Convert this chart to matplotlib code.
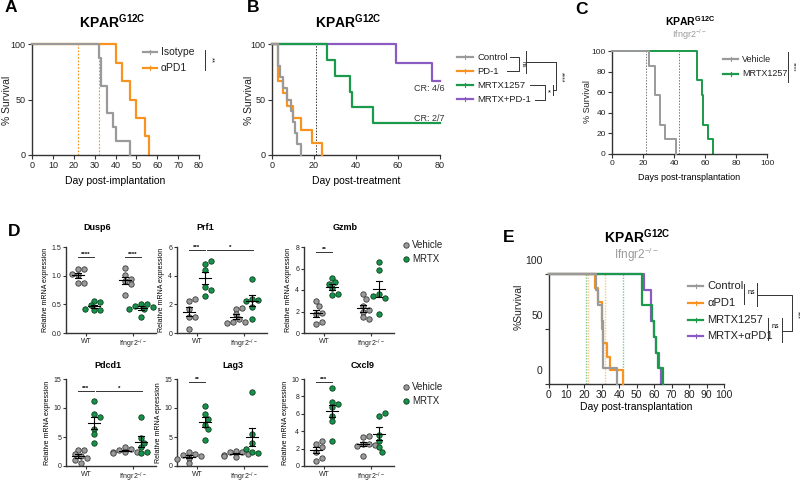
import matplotlib
matplotlib.use("Agg")
import matplotlib.pyplot as plt
import matplotlib.transforms as mtransforms
import numpy as np

plt.rcParams['font.family'] = ['Liberation Sans', 'DejaVu Sans']
plt.rcParams['mathtext.fontset'] = 'custom'
plt.rcParams['mathtext.rm'] = 'Liberation Sans'
plt.rcParams['mathtext.bf'] = 'Liberation Sans:bold'
plt.rcParams['axes.linewidth'] = 1.0
plt.rcParams['axes.edgecolor'] = '#333333'
plt.rcParams['xtick.color'] = '#333333'
plt.rcParams['ytick.color'] = '#333333'

GREY = '#9a9a9a'
ORANGE = '#f7931e'
GREEN = '#1b9a4b'
PURPLE = '#8a5cc2'
VEH_FACE, VEH_EDGE = '#9b9b9b', '#3a3a3a'
MRTX_FACE, MRTX_EDGE = '#17924a', '#0d3d1f'

# ---- A: KPAR G12C, isotype vs aPD1
a_iso_t = [0, 32, 33, 36, 39, 40, 47]
a_iso_s = [100, 87.5, 62.5, 37.5, 25, 12.5, 0]
a_pd1_t = [0, 40, 43, 47, 50, 54, 56]
a_pd1_s = [100, 83.3, 66.7, 50, 33.3, 16.7, 0]
a_treat_days = [22, 32]

# ---- B: KPAR G12C, four arms
b_ctrl_t = [0, 3, 4, 5, 7, 9, 10, 11, 12, 14]
b_ctrl_s = [100, 80, 70, 60, 50, 40, 30, 20, 10, 0]
b_pd1_t = [0, 3, 5, 7, 10, 14, 19, 24]
b_pd1_s = [100, 66.7, 55.6, 44.4, 33.3, 22.2, 11.1, 0]
b_mrtx_t = [0, 26, 30, 37, 38, 48, 80]
b_mrtx_s = [100, 85.7, 71.4, 57.1, 42.9, 28.6, 28.6]
b_combo_t = [0, 59, 76, 80]
b_combo_s = [100, 83.3, 66.7, 66.7]
b_treat_day = 21

# ---- C: Ifngr2-/- vehicle vs MRTX1257
c_veh_t = [0, 24, 28, 31, 34, 41]
c_veh_s = [100, 85.7, 57.1, 28.6, 14.3, 0]
c_mrtx_t = [0, 55, 58, 59, 62, 65]
c_mrtx_s = [100, 71.4, 57.1, 28.6, 14.3, 0]
c_treat_days = [22, 43]

# ---- D: qPCR, relative mRNA expression
genes = ['Dusp6', 'Prf1', 'Gzmb', 'Pdcd1', 'Lag3', 'Cxcl9']
dusp6_wt_veh = [1.12, 1.12, 1.02, 1.03, 0.87, 0.87]
dusp6_wt_mrtx = [0.56, 0.54, 0.48, 0.40, 0.40, 0.41]
dusp6_ko_veh = [1.13, 1.02, 0.95, 0.90, 0.85, 0.67]
dusp6_ko_mrtx = [0.50, 0.50, 0.47, 0.45, 0.42, 0.42, 0.28]
prf1_wt_veh = [2.2, 2.4, 1.7, 1.15, 1.15, 0.25]
prf1_wt_mrtx = [4.8, 5.0, 4.4, 3.2, 3.0, 2.6]
prf1_ko_veh = [1.7, 1.75, 1.3, 1.0, 0.8, 0.75, 0.7]
prf1_ko_mrtx = [3.8, 2.4, 2.3, 2.2, 1.8, 1.0]
gzmb_wt_veh = [2.95, 2.5, 1.75, 1.9, 0.8, 1.0]
gzmb_wt_mrtx = [5.1, 4.7, 4.6, 4.2, 3.5, 3.6]
gzmb_ko_veh = [3.6, 3.2, 2.5, 2.0, 2.1, 1.5, 1.3]
gzmb_ko_mrtx = [6.6, 5.9, 3.6, 3.3, 3.4, 1.8]
pdcd1_wt_veh = [2.8, 2.7, 2.0, 1.8, 1.3, 1.1, 0.6]
pdcd1_wt_mrtx = [11.2, 8.9, 8.5, 6.4, 5.5, 4.0]
pdcd1_ko_veh = [3.3, 2.9, 2.7, 2.5, 2.4, 2.5, 2.2]
pdcd1_ko_mrtx = [8.4, 4.8, 4.0, 3.2, 2.3, 2.4]
lag3_wt_veh = [2.4, 2.0, 1.9, 1.8, 1.4, 1.2, 0.5]
lag3_wt_mrtx = [10.3, 8.9, 8.1, 7.1, 6.3, 4.5]
lag3_ko_veh = [2.6, 2.4, 2.5, 2.1, 1.9, 1.8, 1.6]
lag3_ko_mrtx = [12.7, 5.6, 4.0, 2.5, 2.2, 3.0]
cxcl9_wt_veh = [2.55, 2.9, 1.65, 2.2, 0.6, 0.95]
cxcl9_wt_mrtx = [9.0, 7.4, 7.1, 6.8, 5.8, 5.2, 2.9]
cxcl9_ko_veh = [3.3, 3.5, 2.5, 2.5, 2.3, 1.2, 2.4]
cxcl9_ko_mrtx = [5.8, 6.1, 3.6, 2.9, 2.2, 1.65]
d_ymax = [1.5, 6, 8, 15, 15, 10]
d_ystep = [0.5, 2, 2, 5, 5, 2]
# significance bars: (from, to, height, label)
d_sig = [
    [(0.83, 1.17, 1.33, '****'), (1.83, 2.17, 1.33, '****')],
    [(0.83, 1.17, 5.8, '***'), (1.22, 2.2, 5.8, '*')],
    [(0.83, 1.17, 7.5, '**')],
    [(0.83, 1.17, 13.0, '***'), (1.22, 2.2, 13.0, '*')],
    [(0.83, 1.17, 14.5, '**')],
    [(0.83, 1.17, 9.7, '***')],
]

# ---- E: Ifngr2-/- four arms
e_ctrl_t = [0, 27, 28, 30, 31, 39]
e_ctrl_s = [100, 85.7, 71.4, 57.1, 14.3, 0]
e_pd1_t = [0, 26, 28, 30, 31, 33, 35, 42]
e_pd1_s = [100, 87.5, 75, 50, 37.5, 25, 12.5, 0]
e_mrtx_t = [0, 53, 59, 60, 61, 62, 65]
e_mrtx_s = [100, 71.4, 57.1, 42.9, 28.6, 14.3, 0]
e_combo_t = [0, 54, 58, 60, 61, 63, 64]
e_combo_s = [100, 85.7, 57.1, 42.9, 28.6, 14.3, 0]
e_treat_green = [21, 42]
e_treat_orange = [22, 32]

W, H = 800, 483
fig = plt.figure(figsize=(W / 100, H / 100), dpi=100)


def px_axes(l, t, r, b):
    ax = fig.add_axes([l / W, 1 - b / H, (r - l) / W, (b - t) / H])
    ax.patch.set_alpha(0)
    ax.spines[['top', 'right']].set_visible(False)
    return ax


def km_axes(l, t, r, b, xmax, xstep, ystep, fs):
    ax = px_axes(l, t, r, b)
    ax.set_xlim(0, xmax)
    ax.set_ylim(0, 100)
    ax.set_xticks(np.arange(0, xmax + 1, xstep))
    ax.set_yticks(np.arange(0, 101, ystep))
    ax.tick_params(labelsize=fs, length=3, width=0.8, pad=1.5, labelcolor='#222222')
    return ax


def km(ax, t, s, color, z=2, lw=1.6):
    ax.step(t, s, where='post', color=color, lw=lw, clip_on=False, zorder=z)


ov = fig.add_axes([0, 0, 1, 1], zorder=10)
ov.set_xlim(0, W)
ov.set_ylim(H, 0)
ov.axis('off')


def leg_line(x1, x2, y, color, label, fs):
    ov.plot([x1, x2], [y, y], color=color, lw=1.6)
    ov.plot([(x1 + x2) / 2] * 2, [y - 2, y + 2], color=color, lw=0.8)
    ov.text(x2 + 4, y, label, fontsize=fs, va='center', color='#222222')


def seg(xs, ys, c='#333333'):
    ov.plot(xs, ys, color=c, lw=0.7)


def rot(x, y, s, fs):
    ov.text(x, y, s, fontsize=fs, rotation=-90, ha='center', va='center', color='#222222')


def ylab(x, y, s, fs):
    ov.text(x, y, s, fontsize=fs, rotation=90, ha='center', va='center', color='#222222')


title_big = r'$\bf{KPAR}^{\bf{G12C}}$'
ko = r'Ifngr2$^{-/-}$'

# panel letters
for let, x, y in [('A', 11, 8), ('B', 253, 8), ('C', 581, 10), ('D', 14, 231), ('E', 509, 237)]:
    ov.text(x, y, let, fontsize=12.5, fontweight='bold', ha='center', va='center')

# ---------------- A
ax = km_axes(32, 44, 199, 155, 80, 10, 50, 6.5)
for d in a_treat_days:
    ax.axvline(d, color=ORANGE, lw=0.8, ls=(0, (1.5, 1.5)))
km(ax, a_pd1_t, a_pd1_s, ORANGE)
km(ax, a_iso_t, a_iso_s, GREY, z=3)
ax.set_xlabel('Day post-implantation', fontsize=7.5, labelpad=4)
ylab(7, 100, '% Survival', 7.5)
ov.text(112, 22, title_big, fontsize=10, ha='center', va='center')
leg_line(143, 157, 52, GREY, 'Isotype', 7.5)
leg_line(143, 157, 68, ORANGE, '\u03b1PD1', 7.5)
seg([205, 205], [50, 70])
rot(211, 60, '**', 5.5)

# ---------------- B
ax = km_axes(272, 44, 440, 155, 80, 20, 50, 6.5)
ax.axvline(b_treat_day, color='#333333', lw=0.7, ls=(0, (1.5, 1.5)))
km(ax, b_combo_t, b_combo_s, PURPLE)
km(ax, b_mrtx_t, b_mrtx_s, GREEN)
km(ax, b_pd1_t, b_pd1_s, ORANGE, z=3)
km(ax, b_ctrl_t, b_ctrl_s, GREY, z=4)
ax.text(82, 60, 'CR: 4/6', fontsize=6.5, ha='right', va='center', color='#333333')
ax.text(82, 33, 'CR: 2/7', fontsize=6.5, ha='right', va='center', color='#333333')
ax.set_xlabel('Day post-treatment', fontsize=7.5, labelpad=4)
ylab(249, 100, '% Survival', 7.5)
ov.text(348, 22, title_big, fontsize=10, ha='center', va='center')
leg_line(457, 473, 57, GREY, 'Control', 6.8)
leg_line(457, 473, 71, ORANGE, 'PD-1', 6.8)
leg_line(457, 473, 85, GREEN, 'MRTX1257', 6.8)
leg_line(457, 473, 99, PURPLE, 'MRTX+PD-1', 6.8)
seg([510, 519, 519, 507], [57, 57, 71, 71])
rot(523, 64, 'ns', 4.5)
seg([526, 526], [51, 73])
seg([526, 556], [62, 62])
seg([530, 545, 545, 535], [85, 85, 100, 100])
ov.text(549, 93, '*', fontsize=5.5, ha='center', va='center')
seg([553, 553], [85, 95])
seg([553, 556, 556], [90, 90, 62])
rot(561, 77, '****', 5)

# ---------------- C
ax = km_axes(612, 51, 767, 154, 100, 20, 20, 6)
for d in c_treat_days:
    ax.axvline(d, color='#777777', lw=0.7, ls=(0, (1.5, 1.5)))
km(ax, c_mrtx_t, c_mrtx_s, GREEN, lw=1.4)
km(ax, c_veh_t, c_veh_s, GREY, z=3, lw=1.4)
ax.set_xlabel('Days post-transplantation', fontsize=6.5, labelpad=4)
ylab(587, 102, '% Survival', 6.5)
ov.text(690, 21, title_big, fontsize=7.5, ha='center', va='center')
ov.text(690, 35, ko, fontsize=6.5, ha='center', va='center', color='#9a9a9a')
leg_line(723, 738, 59, GREY, 'Vehicle', 6.5)
leg_line(723, 738, 74, GREEN, 'MRTX1257', 6.5)
seg([788, 788], [52, 82])
rot(793, 67, '****', 4.5)


# ---------------- D
def swarm(vals, ppu, dpx=5.2, step=3.0):
    placed, offs = [], []
    for v in vals:
        y = v * ppu
        for c in [0, 1, -1, 2, -2, 3, -3, 4, -4]:
            x = c * step
            if all((x - px) ** 2 + (y - py) ** 2 >= dpx ** 2 for px, py in placed):
                break
        placed.append((x, y))
        offs.append(x)
    return np.array(offs)


d_data = [
    (dusp6_wt_veh, dusp6_wt_mrtx, dusp6_ko_veh, dusp6_ko_mrtx),
    (prf1_wt_veh, prf1_wt_mrtx, prf1_ko_veh, prf1_ko_mrtx),
    (gzmb_wt_veh, gzmb_wt_mrtx, gzmb_ko_veh, gzmb_ko_mrtx),
    (pdcd1_wt_veh, pdcd1_wt_mrtx, pdcd1_ko_veh, pdcd1_ko_mrtx),
    (lag3_wt_veh, lag3_wt_mrtx, lag3_ko_veh, lag3_ko_mrtx),
    (cxcl9_wt_veh, cxcl9_wt_mrtx, cxcl9_ko_veh, cxcl9_ko_mrtx),
]
d_lefts = [66, 177, 304]
d_rows = [(247, 333), (379, 466)]
d_title_pos = [(97, 228), (205, 228), (345, 228), (108, 366), (233, 366), (363, 366)]
d_ylabels = ['Relative mRNA expression'] * 4 + ['Relative mRNA epression', 'Relative mRNA expression']
ppx = 47.0  # px per x unit
for i, gene in enumerate(genes):
    top, bot = d_rows[i // 3]
    left = d_lefts[i % 3]
    ax = px_axes(left, top, left + 90, bot)
    ax.set_xlim(1 - 20 / ppx, 1 + 70 / ppx)
    ax.set_ylim(0, d_ymax[i])
    yt = np.arange(0, d_ymax[i] + 1e-9, d_ystep[i])
    ax.set_yticks(yt)
    if i == 0:
        ax.set_yticklabels([f'{v:.1f}' for v in yt])
    ax.set_xticks([1, 2])
    ax.set_xticklabels(['WT', ko])
    ax.tick_params(labelsize=5, length=2.5, width=0.8, pad=1.0, labelcolor='#222222')
    ax.set_ylabel(d_ylabels[i], fontsize=5, labelpad=2)
    ppu = (bot - top) / d_ymax[i]
    for j, vals in enumerate(d_data[i]):
        xc = (1 if j < 2 else 2) + (-0.17 if j % 2 == 0 else 0.17)
        face, edge = (VEH_FACE, VEH_EDGE) if j % 2 == 0 else (MRTX_FACE, MRTX_EDGE)
        xs = xc + swarm(vals, ppu) / ppx
        ax.scatter(xs, vals, s=15, color=face, edgecolors=edge, linewidths=0.6, zorder=3, clip_on=False)
        m = np.mean(vals)
        se = np.std(vals, ddof=1) / np.sqrt(len(vals))
        ax.plot([xc - 0.13, xc + 0.13], [m, m], color='black', lw=0.8, zorder=4)
        ax.plot([xc, xc], [m - se, m + se], color='black', lw=0.8, zorder=4)
        ax.plot([xc - 0.07, xc + 0.07], [m + se, m + se], color='black', lw=0.8, zorder=4)
        ax.plot([xc - 0.07, xc + 0.07], [m - se, m - se], color='black', lw=0.8, zorder=4)
    for x1, x2, y, lab in d_sig[i]:
        ax.plot([x1, x2], [y, y], color='#333333', lw=0.7, clip_on=False)
        ax.text((x1 + x2) / 2, y, lab, fontsize=4.5, ha='center', va='bottom', fontweight='bold')
    tx, ty = d_title_pos[i]
    ov.text(tx, ty, gene, fontsize=6.5, fontweight='bold', ha='center', va='center')
for yv, ym in [(245, 259), (387, 401)]:
    ov.scatter([406], [yv], s=15, color=VEH_FACE, edgecolors=VEH_EDGE, linewidths=0.6)
    ov.scatter([406], [ym], s=15, color=MRTX_FACE, edgecolors=MRTX_EDGE, linewidths=0.6)
    ov.text(412, yv, 'Vehicle', fontsize=7, va='center', color='#222222')
    ov.text(412, ym, 'MRTX', fontsize=7, va='center', color='#222222')

# ---------------- E
ax = km_axes(549, 274, 724, 384, 100, 10, 50, 7.5)
for d in e_treat_green:
    ax.axvline(d, color='#7cc98f', lw=1.0, ls=(0, (1, 1)))
for d in e_treat_orange:
    ax.axvline(d, color='#f9c47f', lw=1.0, ls=(0, (1, 1)))
km(ax, e_combo_t, e_combo_s, PURPLE)
km(ax, e_mrtx_t, e_mrtx_s, GREEN, z=3)
km(ax, e_pd1_t, e_pd1_s, ORANGE, z=3)
km(ax, e_ctrl_t, e_ctrl_s, GREY, z=4)
# the reference prints the y labels about 14 px above their tick marks
shift = mtransforms.ScaledTranslation(0, 0.14, fig.dpi_scale_trans)
for lab in ax.get_yticklabels():
    lab.set_transform(lab.get_transform() + shift)
ax.set_xlabel('Day post-transplantation', fontsize=7.5, labelpad=1)
ylab(519, 307, '%Survival', 7.5)
ov.text(637, 237, title_big, fontsize=10, ha='center', va='center')
ov.text(637, 255, ko, fontsize=8.5, ha='center', va='center', color='#9a9a9a')
leg_line(688, 703, 286, GREY, 'Control', 8)
leg_line(688, 703, 303, ORANGE, '\u03b1PD1', 8)
leg_line(688, 703, 320, GREEN, 'MRTX1257', 8)
leg_line(688, 703, 336, PURPLE, 'MRTX+\u03b1PD1', 8)
seg([744, 744], [284, 304])
ov.text(751, 293, 'ns', fontsize=5, ha='center', va='center')
seg([757, 757], [283, 306])
seg([757, 792, 792, 782], [295, 295, 331, 331])
seg([768, 768], [318, 340])
ov.text(775, 327, 'ns', fontsize=5, ha='center', va='center')
seg([782, 782], [318, 342])
rot(797, 315, '***', 5)

fig.savefig('out.png', dpi=100)
